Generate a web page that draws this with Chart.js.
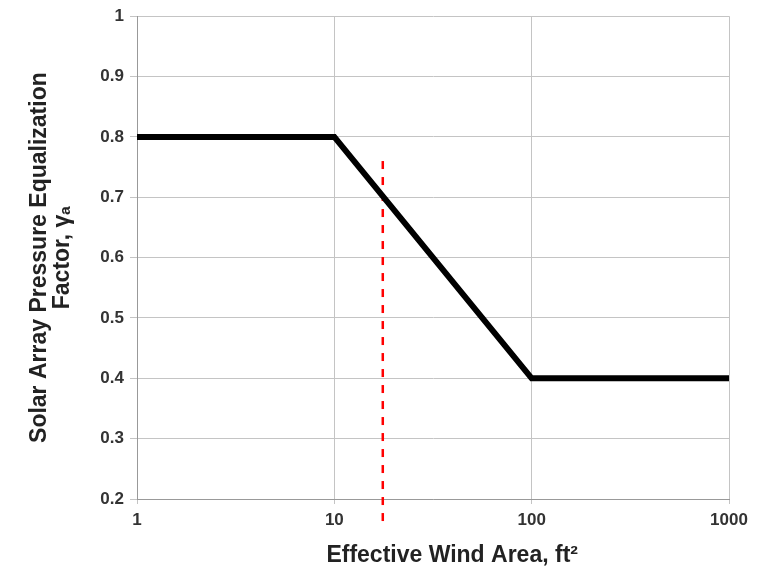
<!DOCTYPE html>
<html>
<head>
<meta charset="utf-8">
<script src="https://cdn.jsdelivr.net/npm/chart.js@4/dist/chart.umd.min.js"></script>
<style>
  html, body { margin: 0; padding: 0; background: #fff; }
  #wrap { width: 767px; height: 569px; }
</style>
</head>
<body>
<div id="wrap"><canvas id="graficoFator"></canvas></div>
<script>
// =========================
// DADOS
// =========================

const areas = [1, 10, 100, 1000];
const factors = [0.8, 0.8, 0.4, 0.4];

const markerArea = 17.6;
const markerFactors = [0.76, 0.157];

const xTicks = [1, 10, 100, 1000];
const xTickLabels = ['1', '10', '100', '1000'];
const yTicks = [0.2, 0.3, 0.4, 0.5, 0.6, 0.7, 0.8, 0.9, 1];
const yTickLabels = ['0.2', '0.3', '0.4', '0.5', '0.6', '0.7', '0.8', '0.9', '1'];

const xTitle = '\u00A0\u00A0\u00A0\u00A0\u00A0\u00A0Effective Wind Area, ft\u00B2';
const yTitle = ['Solar Array Pressure Equalization', 'Factor, \u03B3\u2090'];

// =========================
// GRÁFICO
// =========================

const fonte = '"Liberation Sans", Arial, sans-serif';
const corGrade = '#c4c4c4';

const graficoFator = document.getElementById('graficoFator');

if (graficoFator) {

    const ctx = graficoFator.getContext('2d');

    new Chart(ctx, {
        type: 'line',
        data: {
            datasets: [
                {
                    data: areas.map((a, i) => ({ x: a, y: factors[i] })),
                    borderColor: '#000',
                    borderWidth: 6,
                    tension: 0,
                    pointRadius: 0,
                    borderJoinStyle: 'miter',
                    borderCapStyle: 'butt'
                },
                {
                    data: markerFactors.map(f => ({ x: markerArea, y: f })),
                    borderColor: '#ff0000',
                    borderWidth: 2.5,
                    borderDash: [8, 8],
                    pointRadius: 0,
                    clip: false
                }
            ]
        },
        options: {
            responsive: true,
            maintainAspectRatio: false,
            animation: false,
            layout: {
                padding: { top: 16, right: 38, left: 0, bottom: 0 }
            },
            scales: {
                x: {
                    type: 'logarithmic',
                    min: 1,
                    max: 1000,
                    afterBuildTicks: (scale) => {
                        scale.ticks = xTicks.map(v => ({ value: v }));
                    },
                    afterFit: (scale) => {
                        scale.height = 70;
                    },
                    grid: {
                        color: corGrade,
                        tickLength: 5
                    },
                    border: {
                        color: '#999'
                    },
                    ticks: {
                        padding: 6,
                        color: '#333',
                        maxRotation: 0,
                        autoSkip: false,
                        font: { family: fonte, size: 17, weight: 'bold' },
                        callback: (value, index) => xTickLabels[index]
                    },
                    title: {
                        display: true,
                        text: xTitle,
                        color: '#222',
                        padding: { top: 0, bottom: 0 },
                        font: { family: fonte, size: 23, weight: 'bold' }
                    }
                },
                y: {
                    min: 0.2,
                    max: 1,
                    afterBuildTicks: (scale) => {
                        scale.ticks = yTicks.map(v => ({ value: v }));
                    },
                    afterFit: (scale) => {
                        scale.width = 137;
                    },
                    grid: {
                        color: corGrade,
                        tickLength: 7
                    },
                    border: {
                        color: '#999'
                    },
                    ticks: {
                        padding: 6,
                        color: '#333',
                        font: { family: fonte, size: 17, weight: 'bold' },
                        callback: (value, index) => yTickLabels[index]
                    },
                    title: {
                        display: true,
                        text: yTitle,
                        color: '#222',
                        padding: { top: 28, bottom: 0 },
                        font: { family: fonte, size: 23, weight: 'bold', lineHeight: 1.0 }
                    }
                }
            },
            plugins: {
                legend: { display: false },
                tooltip: { enabled: false }
            }
        }
    });
}
</script>
</body>
</html>
